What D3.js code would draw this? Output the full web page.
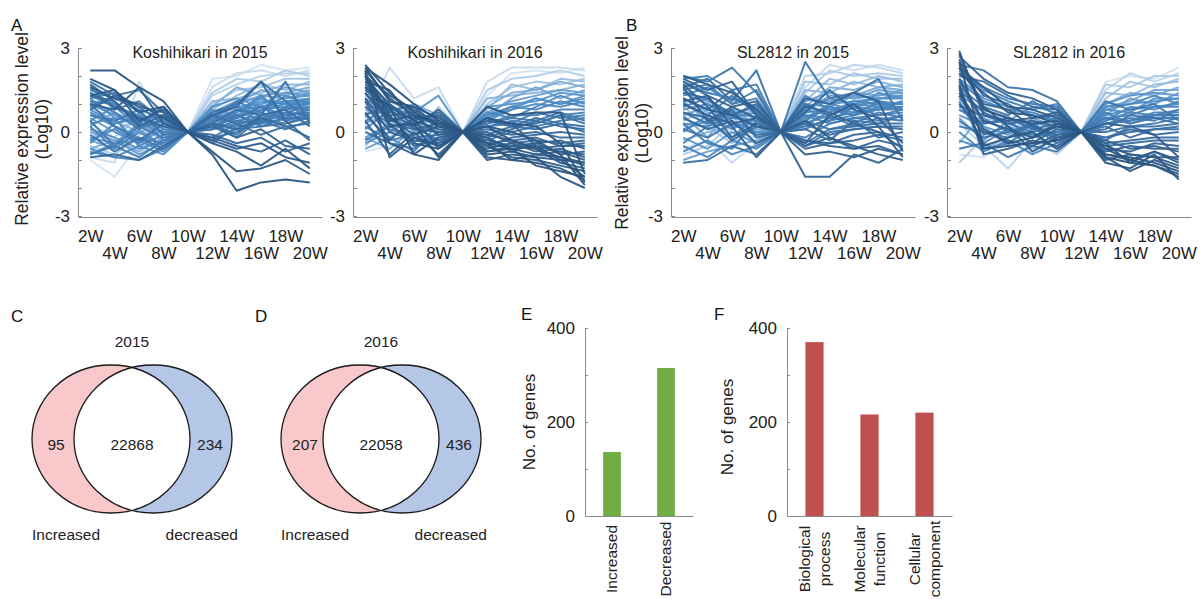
<!DOCTYPE html>
<html>
<head>
<meta charset="utf-8">
<script src="https://cdn.jsdelivr.net/npm/d3@7"></script>
<style>
	body { margin: 0; background: #fff; }
	svg { display: block; font-family: "Liberation Sans", Arial, sans-serif; }
	.axis path, .axis line { stroke: #8a8a8a; }
	.axis text { fill: #222; font-family: "Liberation Sans", Arial, sans-serif; }
</style>
</head>
<body>
<svg id="fig" width="1201" height="599"></svg>
<script>
// time points (weeks after transplanting)
const weeks = ['2W', '4W', '6W', '8W', '10W', '12W', '14W', '16W', '18W', '20W'];

// relative expression (log10) of each gene, Koshihikari 2015 (normalised at 10W)
const kosh2015 = [
	[-1.0, -1.6, -0.4, -0.6, 0, 1.9, 2.0, 2.4, 2.2, 2.3],
	[-0.9, -1.1, 1.8, 0.4, 0, 1.6, 2.1, 2.2, 2.0, 2.2],
	[0.3, -0.2, 0.5, -0.3, 0, 1.3, 1.7, 2.0, 2.1, 2.1],
	[-0.5, -0.8, -0.2, -0.7, 0, 1.4, 1.9, 1.8, 2.2, 2.0],
	[0.6, 0.2, -0.1, 0.2, 0, 1.0, 1.5, 1.6, 1.9, 1.9],
	[-0.2, 0.1, 0.4, -0.4, 0, 0.8, 1.3, 1.7, 1.5, 1.8],
	[0.9, 0.4, 0.0, 0.3, 0, 1.1, 1.2, 1.4, 1.7, 1.7],
	[-0.6, -0.3, -0.7, -0.2, 0, 0.9, 1.6, 1.3, 1.4, 1.6],
	[0.2, 0.7, 0.3, -0.1, 0, 0.6, 1.0, 1.5, 1.3, 1.5],
	[-0.3, -0.6, 0.1, -0.5, 0, 0.7, 1.1, 1.2, 1.6, 1.4],
	[0.0, -0.3, -0.8, -0.4, 0, 0.5, 1.0, 1.3, 1.2, 1.4],
	[0.5, 0.0, -0.4, 0.1, 0, 0.5, 0.9, 1.0, 1.2, 1.3],
	[1.2, 0.5, 0.3, 0.0, 0, 0.8, 0.6, 1.0, 1.4, 1.3],
	[-0.8, -0.4, -0.3, -0.7, 0, 0.4, 0.7, 1.1, 1.0, 1.2],
	[-0.6, -0.9, -0.5, -0.8, 0, 0.9, 1.2, 0.9, 1.1, 1.2],
	[-0.2, -0.4, 0.3, 0.2, 0, 0.4, 0.8, 0.4, 0.9, 1.2],
	[1.0, 0.6, 0.2, 0.4, 0, 0.3, 0.8, 0.9, 1.1, 1.1],
	[0.1, -0.2, -0.6, -0.3, 0, 0.6, 0.5, 0.8, 0.9, 1.1],
	[0.8, 0.3, 0.6, -0.3, 0, 0.5, 0.7, 1.2, 0.8, 1.1],
	[0.4, 0.9, 0.2, 0.4, 0, 0.2, 0.7, 1.3, 0.6, 1.1],
	[-0.4, 0.3, 0.5, 0.0, 0, 0.2, 0.6, 0.7, 1.3, 1.0],
	[1.3, 0.9, 0.6, 0.2, 0, 0.5, 0.4, 0.6, 0.8, 1.0],
	[1.4, 1.0, 0.5, 0.6, 0, 0.6, 0.3, 0.8, 1.0, 1.0],
	[0.7, 0.2, -0.2, -0.4, 0, 0.1, 0.3, 0.5, 0.7, 0.9],
	[0.3, 0.5, -0.5, -0.1, 0, 0.3, 0.2, 0.6, 0.5, 0.9],
	[-0.3, 0.1, -0.4, 0.3, 0, 0.7, 0.9, 0.6, 0.8, 0.9],
	[1.1, 1.0, 0.4, 0.6, 0, 0.4, 0.6, 0.3, 0.5, 0.8],
	[0.9, 1.3, 0.7, 0.1, 0, 0.4, 0.5, 0.9, 0.6, 0.8],
	[0.2, -0.6, 0.0, -0.5, 0, -0.4, 0.2, 0.3, 0.9, 0.8],
	[-0.7, -0.9, -1.0, -0.6, 0, -0.2, 0.3, 0.4, 0.6, 0.7],
	[1.6, 0.8, 1.1, 0.4, 0, 0.5, 1.1, 0.7, 0.4, 0.7],
	[1.5, 1.2, 0.8, 0.5, 0, 0.2, 0.5, 0.9, 0.4, 0.6],
	[1.1, 0.7, 0.1, 0.5, 0, 0.1, 0.4, 0.3, 0.7, 0.6],
	[-0.8, -0.5, -0.9, -0.3, 0, 0.3, -0.2, 0.5, 0.3, 0.6],
	[0.4, -0.5, 0.2, -0.2, 0, -0.3, 0.1, 0.2, 0.3, 0.5],
	[0.6, 0.4, 0.8, -0.1, 0, 0.1, 0.6, 0.2, 0.5, 0.5],
	[1.2, 1.4, 0.9, 0.3, 0, 0.7, 1.0, 1.8, 1.1, 0.4],
	[1.0, 0.2, -0.3, 0.3, 0, -0.2, 0.0, 0.4, 0.1, 0.4],
	[1.8, 1.3, 1.5, 0.7, 0, 0.3, 0.8, 0.6, 1.8, 0.3],
	[-0.1, -0.7, -0.2, -0.6, 0, 0.6, 0.3, -0.1, 0.2, 0.3],
	[1.3, 1.1, 0.3, 0.9, 0, 0.3, -0.1, 0.6, 0.8, 0.2],
	[0.8, 1.3, 0.9, 0.7, 0, 0.3, 0.1, 0.5, 0.2, -0.2],
	[1.4, 0.9, 0.5, 0.2, 0, 0.6, 0.9, 1.8, 0.4, -0.3],
	[-0.9, -0.8, -1.0, -0.5, 0, -0.1, -0.4, -0.2, -0.7, -0.4],
	[1.7, 1.1, 0.2, 0.6, 0, 0.2, -0.2, 0.1, -0.5, -0.6],
	[1.0, 0.8, 1.6, 0.3, 0, -0.2, -0.5, -0.7, -0.3, -0.8],
	[1.3, 1.5, 0.4, 0.8, 0, -0.3, -0.6, -0.4, -0.9, -1.1],
	[1.6, 1.2, 1.0, 0.5, 0, -0.4, -0.7, -1.2, -0.6, -1.3],
	[1.9, 1.5, 0.7, 0.9, 0, -0.7, -1.4, -1.3, -1.0, -1.5],
	[2.2, 2.2, 1.6, 1.1, 0, -0.8, -2.1, -1.8, -1.7, -1.8]
];

// Koshihikari 2016 (normalised at 10W)
const kosh2016 = [
	[0.5, 2.3, 1.2, 1.6, 0, 1.8, 2.3, 2.3, 2.3, 2.2],
	[-0.7, -0.5, 0.2, -0.3, 0, 1.3, 2.1, 2.2, 2.1, 2.3],
	[1.0, 0.6, -0.3, 0.9, 0, 1.5, 1.9, 2.0, 2.2, 2.0],
	[-0.5, 0.4, 0.8, -0.2, 0, 1.0, 1.6, 1.8, 1.7, 1.9],
	[0.8, 0.2, 0.4, 0.1, 0, 0.8, 1.7, 1.5, 1.9, 1.8],
	[1.3, 0.9, -0.4, 0.5, 0, 1.2, 1.3, 1.4, 1.5, 1.7],
	[0.3, 0.7, 1.0, 0.6, 0, 0.9, 1.4, 1.5, 1.8, 1.6],
	[-0.2, -0.6, 0.1, -0.5, 0, 0.6, 1.2, 1.6, 1.2, 1.5],
	[-0.6, -0.2, 0.3, 0.5, 0, 0.7, 1.1, 1.3, 1.5, 1.4],
	[0.3, 1.1, 0.7, 1.3, 0, 0.9, 1.0, 1.1, 1.4, 1.3],
	[-0.2, 0.3, -0.5, -0.2, 0, 0.5, 0.9, 1.2, 1.0, 1.3],
	[0.6, -0.2, -0.7, 0.3, 0, 0.4, 0.8, 1.2, 1.0, 1.2],
	[0.4, 0.9, 0.6, 0.2, 0, 0.5, 0.8, 1.0, 0.9, 1.1],
	[-0.4, 0.0, 0.5, -0.6, 0, 0.7, 0.5, 0.9, 1.3, 1.0],
	[0.1, 0.8, 0.3, 0.6, 0, 0.6, 0.9, 0.8, 1.1, 0.9],
	[1.1, 0.5, 0.3, 0.0, 0, 0.3, 0.6, 0.6, 0.8, 0.8],
	[0.9, 0.1, -0.2, -0.4, 0, 0.2, 0.4, 0.3, 0.6, 0.7],
	[0.2, -0.3, -0.1, 0.4, 0, 0.2, 0.3, 0.7, 0.5, 0.6],
	[1.2, 0.6, 0.7, 0.3, 0, -0.3, 0.0, 0.2, 0.4, 0.5],
	[-0.3, 0.2, -0.2, -0.1, 0, 0.3, 0.5, 0.4, 0.7, 0.4],
	[1.5, 0.8, 0.9, 0.2, 0, 0.5, 0.2, 0.3, 0.6, 0.3],
	[0.0, -0.4, -0.6, 0.0, 0, 0.4, 0.2, 0.5, 0.3, 0.2],
	[0.9, 0.3, -0.5, -0.3, 0, -0.2, 0.1, 0.4, 0.2, 0.1],
	[1.4, 0.3, 0.1, 0.3, 0, -0.1, 0.2, 0.1, 0.3, 0.0],
	[1.6, 0.4, 0.2, -0.3, 0, -0.5, -0.2, -0.1, 0.0, -0.1],
	[1.7, 0.7, 0.5, 0.6, 0, 0.1, -0.1, 0.0, -0.2, -0.2],
	[0.6, 1.0, 0.4, 0.7, 0, 0.0, -0.4, -0.3, -0.4, -0.3],
	[0.4, -0.8, 0.0, -0.8, 0, -0.4, -0.3, -0.2, -0.5, -0.4],
	[1.8, 0.8, 0.1, 0.0, 0, -0.7, -0.5, -0.6, -0.5, -0.5],
	[1.9, 1.0, 0.2, 0.8, 0, -0.3, -0.5, -0.4, -0.3, -0.6],
	[1.1, -0.3, 0.5, 0.4, 0, -0.2, -0.7, -0.4, -0.8, -0.7],
	[1.2, 0.0, -0.3, -0.4, 0, 0.4, 0.3, -0.5, -0.7, -0.8],
	[2.0, 1.3, 0.8, 0.3, 0, -0.6, -0.4, -0.7, -0.6, -0.9],
	[2.0, 0.9, 0.4, -0.5, 0, -0.9, -1.0, -0.8, -0.7, -1.0],
	[0.7, -0.4, -0.8, -0.2, 0, -1.0, -0.8, -0.9, -1.0, -1.1],
	[1.4, 0.5, -0.1, 0.2, 0, -0.1, -0.3, -0.6, -0.9, -1.1],
	[2.1, 0.4, 0.6, -0.1, 0, -0.2, -0.6, -0.8, -0.9, -1.2],
	[1.8, 1.5, 0.4, 0.1, 0, 0.2, -0.3, -0.6, -1.1, -1.3],
	[2.2, -0.9, -0.2, -0.5, 0, -0.5, -0.9, -1.0, -1.2, -1.4],
	[2.3, 1.7, 1.0, 0.4, 0, 0.9, 0.6, 0.7, 0.7, -1.5],
	[2.2, 1.2, 0.6, 0.3, 0, -0.4, -0.6, -0.5, -1.0, -1.6],
	[1.6, 0.9, -0.8, -1.0, 0, -0.7, -0.6, -1.2, -1.4, -1.6],
	[2.0, 0.2, 0.3, -0.9, 0, -0.4, -1.0, -1.1, -1.3, -1.7],
	[2.3, 1.1, 0.9, 0.5, 0, 0.5, 0.3, 0.2, -0.4, -1.8],
	[2.4, 1.4, 0.7, 0.2, 0, 0.2, 0.0, -0.3, -0.8, -1.9],
	[2.1, 0.6, -0.4, -0.6, 0, -0.8, -0.7, -0.9, -1.6, -2.0]
];

// SL2812 2015 (normalised at 10W)
const sl2015 = [
	[-0.6, -0.3, -1.1, -0.4, 0, 1.6, 2.4, 2.2, 2.4, 2.2],
	[0.2, 0.5, 0.0, -0.2, 0, 2.0, 2.1, 2.4, 2.3, 2.1],
	[-0.8, -0.5, 0.3, 0.4, 0, 1.4, 2.2, 2.0, 2.1, 2.0],
	[0.9, 0.2, -0.4, 0.1, 0, 1.8, 1.7, 2.1, 1.9, 1.9],
	[0.4, 0.8, 0.6, -0.5, 0, 1.1, 1.9, 1.7, 2.0, 1.8],
	[-0.3, 0.0, 0.2, 0.3, 0, 1.5, 1.4, 1.8, 1.6, 1.7],
	[1.2, 0.7, 0.5, 0.8, 0, 0.9, 1.6, 1.5, 1.8, 1.6],
	[0.6, 0.9, 0.2, 0.3, 0, 0.9, 1.1, 1.3, 1.6, 1.5],
	[0.6, -0.2, 0.9, 0.2, 0, 1.2, 1.1, 1.4, 1.3, 1.5],
	[-1.0, -0.7, -0.5, -0.3, 0, 0.7, 1.3, 1.2, 1.5, 1.4],
	[1.1, 0.4, 0.8, 0.1, 0, 1.1, 1.4, 1.2, 1.3, 1.4],
	[1.5, 1.1, 0.7, 0.5, 0, 1.0, 0.9, 1.3, 1.2, 1.3],
	[-0.2, -0.6, 0.0, -0.4, 0, 0.4, 1.0, 1.1, 1.2, 1.3],
	[0.1, 0.4, -0.2, 0.6, 0, 0.5, 1.0, 0.8, 1.4, 1.2],
	[1.4, 1.0, 0.6, 0.9, 0, 0.7, 0.8, 1.0, 1.2, 1.2],
	[1.8, 1.4, 1.2, 0.9, 0, 0.8, 1.2, 1.0, 0.9, 1.1],
	[0.3, 0.2, 0.5, 0.7, 0, 0.3, 0.6, 0.9, 0.8, 1.1],
	[0.8, 1.0, 0.4, 0.0, 0, 0.3, 0.7, 1.1, 1.0, 1.0],
	[0.0, 0.6, 0.1, 0.5, 0, 0.8, 0.6, 0.9, 1.1, 1.0],
	[1.7, 1.4, 1.2, 0.8, 0, 0.5, 0.9, 0.7, 1.0, 1.0],
	[-0.5, -0.9, -0.3, -0.6, 0, 0.6, 0.5, 0.7, 0.8, 0.9],
	[-0.7, -0.3, -0.8, -0.5, 0, 0.2, 0.4, 0.6, 0.9, 0.9],
	[-0.4, 0.2, 0.7, -0.1, 0, 0.4, 0.9, 0.6, 0.8, 0.8],
	[1.3, 1.6, 1.0, 1.2, 0, 1.3, 0.8, 0.6, 1.1, 0.8],
	[0.9, 1.2, 0.5, 0.4, 0, 0.6, 0.3, 0.5, 0.6, 0.8],
	[1.9, 2.0, 1.5, 1.7, 0, 0.2, 0.4, 0.9, 0.6, 0.7],
	[0.3, -0.4, -0.6, 0.4, 0, -0.2, 0.3, 0.5, 0.4, 0.6],
	[1.5, 1.7, 1.0, 1.5, 0, 0.1, 0.5, 0.4, 0.3, 0.6],
	[1.0, 0.6, 1.3, 0.7, 0, 0.4, 0.1, 0.3, 0.7, 0.5],
	[2.0, 1.8, 2.3, 1.4, 0, 2.5, 1.2, 1.4, 1.9, 0.4],
	[0.1, -0.2, 0.3, -0.1, 0, -0.4, 0.1, 0.2, 0.5, 0.4],
	[1.6, 1.9, 1.1, 2.2, 0, 1.0, 0.6, 0.2, 0.3, 0.3],
	[-1.1, -1.0, -0.5, -0.8, 0, -0.5, 0.0, 0.1, 0.2, 0.2],
	[1.2, 0.8, 1.5, 0.6, 0, 0.3, -0.1, 0.1, 0.2, 0.1],
	[0.7, 0.3, 0.8, -0.2, 0, 0.1, -0.3, 0.4, -0.2, 0.0],
	[1.4, 1.2, 0.6, 1.0, 0, -0.6, -0.4, -0.1, 0.0, -0.2],
	[0.7, 0.5, -0.3, 0.2, 0, -0.3, -0.4, -0.3, -0.1, -0.3],
	[1.7, 0.9, -0.2, 0.3, 0, 0.7, 1.5, 0.8, 0.5, -0.4],
	[0.5, 0.1, 0.4, -0.4, 0, -0.3, -0.5, -0.6, -0.3, -0.5],
	[1.6, 0.4, 0.9, 0.5, 0, -1.6, -1.6, -0.8, -1.1, -0.6],
	[1.8, 1.3, 0.9, 1.1, 0, 0.9, 0.7, 0.3, 0.0, -0.6],
	[1.9, 1.5, 1.8, 0.6, 0, 1.2, 1.0, 1.4, 1.1, -0.7],
	[1.1, 1.3, 0.2, -0.9, 0, -0.8, -0.7, -0.9, -0.6, -0.8],
	[1.0, 0.6, 0.3, 0.5, 0, -0.5, -0.2, -0.6, -0.5, -0.8],
	[1.2, 0.8, 0.6, 0.2, 0, -0.4, 0.6, 1.0, 0.2, -0.9],
	[2.0, 1.7, 1.4, 0.8, 0, 0.4, -0.2, -0.5, -0.8, -1.0]
];

// SL2812 2016 (normalised at 12W)
const sl2016 = [
	[-0.8, -0.9, -0.4, -0.7, -0.5, 0, 1.8, 2.0, 1.9, 2.3],
	[0.3, -0.5, -1.3, -0.3, -0.8, 0, 1.5, 2.1, 1.8, 2.1],
	[-1.1, -0.2, 0.1, 0.4, 0.0, 0, 1.7, 1.6, 2.0, 2.0],
	[0.8, 0.4, 0.6, -0.6, -0.3, 0, 1.2, 1.8, 1.6, 1.9],
	[1.5, -0.6, -0.2, 0.2, 0.5, 0, 1.4, 1.3, 1.7, 1.8],
	[-0.4, 0.7, 0.2, -0.1, -0.6, 0, 1.0, 1.4, 1.3, 1.6],
	[1.2, 0.2, -0.5, 0.5, 0.2, 0, 0.9, 1.1, 1.5, 1.5],
	[0.5, -0.3, 0.4, 0.9, 0.7, 0, 0.6, 1.2, 1.0, 1.4],
	[0.6, 0.2, -0.1, 0.4, 0.1, 0, 1.0, 1.3, 1.4, 1.3],
	[1.9, 1.2, 0.9, 0.6, 0.4, 0, 0.8, 0.7, 1.2, 1.2],
	[1.3, 0.8, 0.5, 0.2, 0.5, 0, 0.8, 1.0, 1.1, 1.2],
	[0.0, -0.7, -0.3, -0.8, -0.4, 0, 0.4, 0.9, 0.8, 1.1],
	[1.1, -0.4, 0.1, -0.1, 0.0, 0, 0.9, 1.0, 1.3, 1.0],
	[-0.3, -0.6, -0.4, 0.1, -0.2, 0, 0.6, 0.8, 0.9, 1.0],
	[2.2, 1.5, 1.1, 0.8, 1.0, 0, 0.5, 0.6, 0.9, 0.9],
	[1.0, 0.5, 0.0, 0.3, -0.2, 0, 0.3, 0.5, 0.4, 0.8],
	[1.8, 1.1, 0.8, 0.7, 0.4, 0, 0.4, 0.7, 0.6, 0.8],
	[0.9, 0.6, 0.3, 0.0, 0.2, 0, 0.5, 0.4, 0.7, 0.7],
	[1.6, 0.9, 0.6, 1.1, 0.6, 0, 0.7, 0.3, 0.6, 0.6],
	[0.8, 0.3, 0.4, -0.2, 0.0, 0, 0.3, 0.4, 0.6, 0.6],
	[-0.6, -0.4, -0.9, -0.5, -0.7, 0, -0.3, 0.2, 0.3, 0.5],
	[2.1, 1.6, 1.2, 1.0, 0.9, 0, 0.5, 0.3, 0.5, 0.5],
	[2.4, 2.2, 1.6, 1.5, 1.1, 0, 1.1, 0.8, 1.0, 0.4],
	[0.2, 0.0, -0.2, 0.3, -0.3, 0, 0.1, 0.6, 0.5, 0.3],
	[0.4, -0.2, 0.0, 0.2, -0.4, 0, 0.0, 0.2, 0.2, 0.3],
	[1.8, 0.3, 0.5, 0.1, 0.3, 0, 0.2, -0.2, 0.1, 0.2],
	[1.5, 0.7, 0.3, 0.4, 0.2, 0, -0.2, 0.0, 0.1, 0.1],
	[2.0, 1.8, 1.3, 0.9, 0.8, 0, -0.2, 0.1, -0.1, 0.0],
	[2.4, 1.3, 1.0, 0.5, 0.6, 0, -0.4, -0.3, -0.2, -0.2],
	[1.3, -0.1, 0.2, -0.4, 0.1, 0, -0.5, -0.4, -0.3, -0.3],
	[1.0, 0.0, -0.3, -0.5, -0.1, 0, -0.6, -0.7, -0.4, -0.5],
	[2.3, 1.0, 0.8, 0.2, -0.1, 0, -0.7, -0.5, -0.6, -0.6],
	[2.7, 1.9, 1.4, 1.2, 0.8, 0, -0.3, -0.6, -0.5, -0.7],
	[2.9, 0.6, 0.4, 0.5, 0.7, 0, 0.3, 0.2, -0.1, -0.9],
	[1.7, -0.8, -0.6, -0.3, -0.5, 0, -1.0, -0.8, -0.9, -0.9],
	[1.9, 0.4, 0.1, -0.2, 0.3, 0, -0.8, -1.0, -0.7, -1.0],
	[2.6, 0.9, 0.2, -0.7, -0.2, 0, -0.4, -1.1, -0.7, -1.1],
	[2.3, 1.6, 0.9, 0.8, 0.5, 0, -0.5, -0.8, -0.9, -1.2],
	[2.1, 1.4, 0.7, 0.6, 0.3, 0, -0.9, -1.4, -1.0, -1.3],
	[2.8, 0.8, 0.5, 0.3, 0.4, 0, -0.8, -0.9, -1.1, -1.4],
	[2.5, -0.5, -0.2, 0.0, -0.6, 0, -0.6, -1.0, -1.2, -1.5],
	[1.6, -0.6, -0.5, -0.4, -0.3, 0, -0.9, -1.1, -1.2, -1.6],
	[1.4, 0.1, -0.4, -0.2, 0.2, 0, -1.1, -1.3, -0.8, -1.7]
];

const lineTitles = ['Koshihikari in 2015', 'Koshihikari in 2016', 'SL2812 in 2015', 'SL2812 in 2016'];

// Venn counts (C: 2015, D: 2016)
const vennYears = ['2015', '2016'];
const increasedOnly = [95, 207];
const sharedGenes = [22868, 22058];
const decreasedOnly = [234, 436];

// E: DEG counts, F: GO categories
const degCategories = ['Increased', 'Decreased'];
const degCounts = [136, 315];
const goCategories = [['Biological', 'process'], ['Molecular', 'function'], ['Cellular', 'component']];
const goCounts = [370, 216, 220];

const svg = d3.select('#fig');

// colour of each gene line follows its value at 20W
const lineColor = d3.scaleLinear()
	.domain([-1.6, 0.2, 1.2, 2.3])
	.range(['#2b5681', '#3a70a5', '#4f8ec8', '#d4e3f2'])
	.clamp(true);

/**
 * 発現プロファイルの折れ線パネル
 */
function drawLinePanel(rows, left, title) {
	const w = 244, top = 48, bottom = 216;
	const g = svg.append('g').attr('transform', `translate(${left},0)`);

	const x = d3.scalePoint().domain(weeks).range([0, w]).padding(0.5);
	const y = d3.scaleLinear().domain([-3, 3]).range([bottom, top]);

	const line = d3.line()
		.x((d, i) => x(weeks[i]))
		.y(d => y(d));

	// light lines first, dark lines on top
	const ordered = rows.slice().sort((a, b) => b[b.length - 1] - a[a.length - 1]);
	g.append('g').selectAll('path')
		.data(ordered)
		.enter().append('path')
		.attr('d', line)
		.attr('fill', 'none')
		.attr('stroke', d => lineColor(d[d.length - 1]))
		.attr('stroke-width', 2)
		.attr('stroke-linejoin', 'round')
		.attr('stroke-opacity', 0.95);

	g.append('g')
		.attr('class', 'axis')
		.call(d3.axisLeft(y).tickValues([-3, -2, -1, 0, 1, 2, 3]).tickSize(-4).tickSizeOuter(0).tickPadding(8)
			.tickFormat(d => d % 3 === 0 ? String(d) : ''))
		.call(a => a.selectAll('text').style('font-size', '17px'));

	g.append('g')
		.attr('class', 'axis')
		.attr('transform', `translate(0,${bottom + 1})`)
		.call(d3.axisBottom(x).tickSize(0).tickSizeOuter(0))
		.call(a => a.selectAll('text').style('font-size', '17px').attr('y', (d, i) => i % 2 ? 30 : 13));

	g.append('text')
		.attr('x', w / 2).attr('y', 58)
		.attr('text-anchor', 'middle')
		.style('font-size', '16px')
		.attr('fill', '#222')
		.text(title);
}

function yLabel(x, y, lines, size) {
	const t = svg.append('text')
		.attr('transform', `translate(${x},${y}) rotate(-90)`)
		.attr('text-anchor', 'middle')
		.style('font-size', size + 'px')
		.attr('fill', '#222');
	lines.forEach((s, i) => t.append('tspan').attr('x', 0).attr('dy', i ? '1.15em' : 0).text(s));
}

function panelLetter(x, y, s) {
	svg.append('text').attr('x', x).attr('y', y).style('font-size', '17px').attr('fill', '#111').text(s);
}

drawLinePanel(kosh2015, 78, lineTitles[0]);
drawLinePanel(kosh2016, 353, lineTitles[1]);
drawLinePanel(sl2015, 671, lineTitles[2]);
drawLinePanel(sl2016, 947, lineTitles[3]);

yLabel(28, 129, ['Relative expression level', '(Log10)'], 17.5);
yLabel(628, 133, ['Relative expression level', '(Log10)'], 17.5);

panelLetter(11, 31, 'A');
panelLetter(626, 31, 'B');

/**
 * ベン図（増加 / 減少）
 */
function drawVenn(cx, i) {
	const rx = 79, ry = 74, cy = 439, off = 21;
	const g = svg.append('g');
	const id = 'clipR' + i;
	g.append('clipPath').attr('id', id)
		.append('ellipse').attr('cx', cx + off).attr('cy', cy).attr('rx', rx).attr('ry', ry);

	g.append('ellipse').attr('cx', cx - off).attr('cy', cy).attr('rx', rx).attr('ry', ry).attr('fill', '#f9c8cb');
	g.append('ellipse').attr('cx', cx + off).attr('cy', cy).attr('rx', rx).attr('ry', ry).attr('fill', '#b4c7e6');
	g.append('ellipse').attr('cx', cx - off).attr('cy', cy).attr('rx', rx).attr('ry', ry)
		.attr('fill', '#fff').attr('clip-path', `url(#${id})`);
	[cx - off, cx + off].forEach(c => {
		g.append('ellipse').attr('cx', c).attr('cy', cy).attr('rx', rx).attr('ry', ry)
			.attr('fill', 'none').attr('stroke', '#1a1a1a').attr('stroke-width', 1.3);
	});

	const txt = (x, y, s, anchor) => g.append('text').attr('x', x).attr('y', y)
		.attr('text-anchor', anchor || 'middle').style('font-size', '15.5px').attr('fill', '#222').text(s);
	txt(cx, 347, vennYears[i]);
	txt(cx - 76, 450, increasedOnly[i]);
	txt(cx, 450, sharedGenes[i]);
	txt(cx + 78, 450, decreasedOnly[i]);
	txt(cx - 100, 540, 'Increased', 'start');
	txt(cx + 106, 540, 'decreased', 'end');
}

drawVenn(132, 0);
drawVenn(381, 1);
panelLetter(11, 322, 'C');
panelLetter(255, 322, 'D');

/**
 * 棒グラフ（遺伝子数）
 */
function drawBars(cats, counts, left, w, color) {
	const top = 328, bottom = 516;
	const g = svg.append('g').attr('transform', `translate(${left},0)`);
	const n = cats.length;
	const x = d3.scaleBand().domain(d3.range(n)).range([0, w]).paddingInner(0.67).paddingOuter(0.335);
	const y = d3.scaleLinear().domain([0, 400]).range([bottom, top]);

	g.selectAll('rect')
		.data(counts)
		.enter().append('rect')
		.attr('x', (d, i) => x(i))
		.attr('width', x.bandwidth())
		.attr('y', d => y(d))
		.attr('height', d => bottom - y(d))
		.attr('fill', color);

	g.append('g')
		.attr('class', 'axis')
		.call(d3.axisLeft(y).tickValues([0, 100, 200, 300, 400]).tickSize(-3).tickSizeOuter(0).tickPadding(10)
			.tickFormat(d => d % 200 === 0 ? String(d) : ''))
		.call(a => a.selectAll('text').style('font-size', '17px'));

	g.append('g')
		.attr('class', 'axis')
		.attr('transform', `translate(0,${bottom})`)
		.call(d3.axisBottom(x).tickSize(0).tickSizeOuter(0).tickFormat(''));

	// rotated category labels (kept inside the page)
	cats.forEach((c, i) => {
		const parts = Array.isArray(c) ? c : [c];
		const cx = x(i) + x.bandwidth() / 2;
		const t = g.append('text')
			.attr('transform', `translate(${cx},559) rotate(-90)`)
			.attr('text-anchor', 'middle')
			.style('font-size', '15.5px')
			.attr('fill', '#222');
		parts.forEach((s, k) => t.append('tspan').attr('x', 0)
			.attr('y', (k - (parts.length - 1) / 2) * 20 + 5).text(s));
	});
}

drawBars(degCategories, degCounts, 585, 108, '#70ad47');
drawBars(goCategories, goCounts, 787, 165, '#c0504d');

yLabel(535, 422, ['No. of genes'], 17);
yLabel(733, 427, ['No. of genes'], 17);
panelLetter(521, 320, 'E');
panelLetter(714, 320, 'F');
</script>
</body>
</html>
